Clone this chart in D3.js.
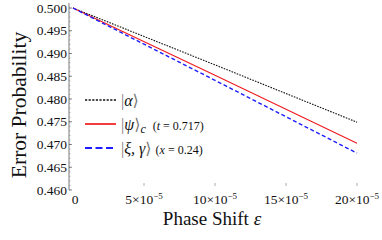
<!DOCTYPE html>
<html>
<head>
<meta charset="utf-8">
<script src="https://cdn.jsdelivr.net/npm/d3@7"></script>
<style>
  body { margin: 0; background: #fff; }
  svg, svg text { font-family: "Liberation Serif", "DejaVu Serif", serif; }
  svg text { fill: #111; }
</style>
</head>
<body>
<svg id="chart" width="382" height="240" font-family="Liberation Serif"></svg>
<script>
"use strict";

// values
const phaseShift = [0, 10e-5, 20e-5];
const alphaVals  = [0.5, 0.4875, 0.4749];   // |alpha>
const psiVals    = [0.5, 0.4852, 0.4703];   // |psi>_c, t = 0.717
const xiVals     = [0.5, 0.4841, 0.4681];   // |xi, gamma>, x = 0.24
const yTicks = [0.460, 0.465, 0.470, 0.475, 0.480, 0.485, 0.490, 0.495, 0.500];
const xTicks = [0, 5e-5, 10e-5, 15e-5, 20e-5];
const xTickText = ["0", "5", "10", "15", "20"];

const svg = d3.select("#chart");

const x = d3.scaleLinear().domain([0, 20e-5]).range([73, 357]);
const y = d3.scaleLinear().domain([0.46, 0.5]).range([190, 8]);
const axisX = 69;

// y axis (ticks inside, Mathematica style)
const gy = svg.append("g").attr("transform", `translate(${axisX},0)`);
gy.append("line")
  .attr("x1", 0).attr("x2", 0).attr("y1", 3).attr("y2", 190)
  .attr("stroke", "#555").attr("stroke-width", 0.8);
gy.selectAll(".minor").data(d3.range(0.460, 0.5001, 0.001))
  .join("line")
  .attr("x1", 0).attr("x2", 1.5)
  .attr("y1", d => y(d)).attr("y2", d => y(d))
  .attr("stroke", "#777").attr("stroke-width", 0.5);
gy.selectAll(".major").data(yTicks)
  .join("line")
  .attr("x1", 0).attr("x2", 3)
  .attr("y1", d => y(d)).attr("y2", d => y(d))
  .attr("stroke", "#555").attr("stroke-width", 0.7);
gy.selectAll("text").data(yTicks)
  .join("text")
  .attr("x", -2).attr("y", d => y(d))
  .attr("dy", "0.35em")
  .attr("text-anchor", "end")
  .attr("font-family", "Liberation Serif")
  .attr("font-size", 13.5)
  .text(d3.format(".3f"));

// x axis: small tick marks and labels only
const gx = svg.append("g");
gx.selectAll("line").data(xTicks.slice(1))
  .join("line")
  .attr("x1", d => x(d)).attr("x2", d => x(d))
  .attr("y1", 183).attr("y2", 186)
  .attr("stroke", "#777").attr("stroke-width", 0.6);
const xl = gx.selectAll("text").data(xTicks)
  .join("text")
  .attr("x", (d, i) => i == 0 ? x(d) + 2 : x(d))
  .attr("y", 204)
  .attr("text-anchor", "middle")
  .attr("font-family", "Liberation Serif")
  .attr("font-size", 13.5);
xl.append("tspan").text((d, i) => xTickText[i]);
xl.filter((d, i) => i > 0).append("tspan").text("\u00d710");
xl.filter((d, i) => i > 0).append("tspan")
  .attr("dy", -5).attr("font-size", 9).text("\u22125");

// axis titles
svg.append("text")
  .attr("transform", "translate(26,105) rotate(-90)")
  .attr("text-anchor", "middle")
  .attr("font-family", "Liberation Serif")
  .attr("font-size", 21.5)
  .text("Error Probability");

const xt = svg.append("text")
  .attr("x", 212).attr("y", 225)
  .attr("text-anchor", "middle")
  .attr("font-family", "Liberation Serif")
  .attr("font-size", 19);
xt.append("tspan").text("Phase Shift ");
xt.append("tspan").attr("font-style", "italic").text("\u03b5");

// curves
const series = [
  {vals: alphaVals, color: "#111", width: 1.1, dash: "1.6,1.2"},
  {vals: psiVals,   color: "#f0191e", width: 1.1, dash: null},
  {vals: xiVals,    color: "#1d1dff", width: 1.4, dash: "4,2.5"}
];
const line = d3.line().x(d => x(d[0])).y(d => y(d[1]));

svg.append("g").selectAll("path").data(series)
  .join("path")
  .attr("d", s => line(phaseShift.map((p, i) => [p, s.vals[i]])))
  .attr("fill", "none")
  .attr("stroke", s => s.color)
  .attr("stroke-width", s => s.width)
  .attr("stroke-dasharray", s => s.dash);

// legend
const legendY = [100, 124, 148];
const lg = svg.append("g").attr("font-family", "Liberation Serif");
lg.selectAll("line").data(series)
  .join("line")
  .attr("x1", 85).attr("x2", 116)
  .attr("y1", (s, i) => legendY[i]).attr("y2", (s, i) => legendY[i])
  .attr("stroke", s => s.color)
  .attr("stroke-width", s => s.width + 0.6)
  .attr("stroke-dasharray", (s, i) => i == 0 ? "2.2,1.4" : i == 2 ? "7,3.5" : null);

function ket(t, yy, greek, sub) {
  t.attr("x", 121).attr("y", yy).attr("dy", "0.35em").attr("font-size", 16);
  t.append("tspan").attr("fill", "#777").text("|");
  t.append("tspan").attr("font-style", "italic").text(greek);
  t.append("tspan").attr("fill", "#777").text("\u27e9");
  if (sub) t.append("tspan").attr("font-style", "italic").attr("font-size", 12).attr("dy", 3).text(sub);
  return t;
}
ket(lg.append("text"), legendY[0], "\u03b1");
const t2 = ket(lg.append("text"), legendY[1], "\u03c8", "c");
t2.append("tspan").attr("font-size", 12).attr("dy", -3).attr("dx", 7).text("(");
t2.append("tspan").attr("font-size", 12).attr("font-style", "italic").text("t");
t2.append("tspan").attr("font-size", 12).text(" = 0.717)");
const t3 = ket(lg.append("text"), legendY[2], "\u03be, \u03b3");
t3.append("tspan").attr("font-size", 12).attr("dx", 4).text("(");
t3.append("tspan").attr("font-size", 12).attr("font-style", "italic").text("x");
t3.append("tspan").attr("font-size", 12).text(" = 0.24)");
</script>
</body>
</html>
